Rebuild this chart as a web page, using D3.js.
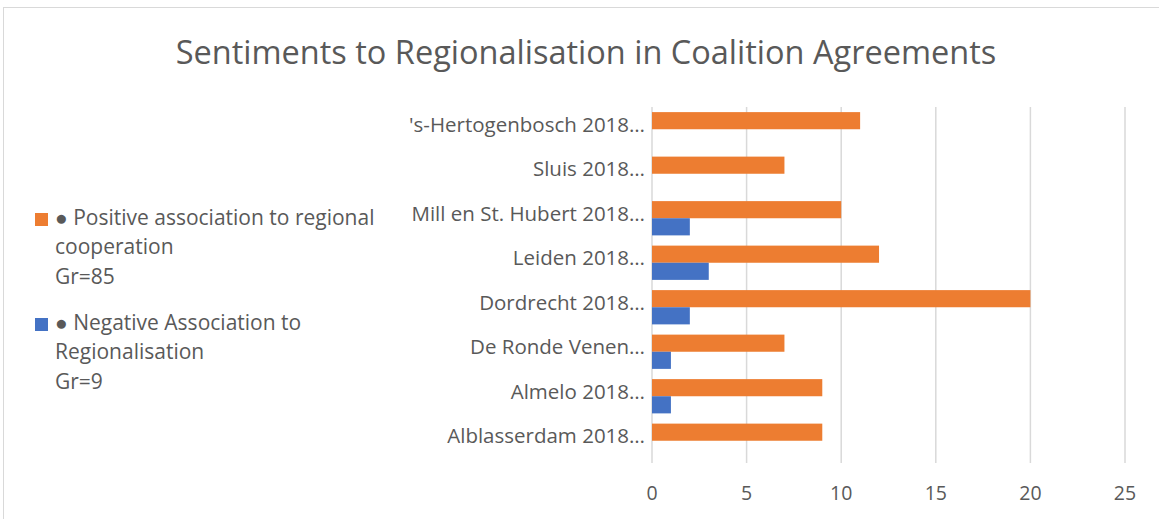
<!DOCTYPE html>
<html>
<head>
<meta charset="utf-8">
<script src="https://cdn.jsdelivr.net/npm/d3@7"></script>
<style>
  body { margin: 0; background: #fff; }
  text { font-family: "Open Sans", "Noto Sans", sans-serif; fill: #595959; }
</style>
</head>
<body>
<svg id="chart" width="1159" height="519"></svg>
<script>
// data (bottom to top as drawn)
var categories = ["Alblasserdam 2018…", "Almelo 2018…", "De Ronde Venen…", "Dordrecht 2018…",
                  "Leiden 2018…", "Mill en St. Hubert 2018…", "Sluis 2018…", "'s-Hertogenbosch 2018…"];
var positive = [9, 9, 7, 20, 12, 10, 7, 11];
var negative = [0, 1, 1, 2, 3, 2, 0, 0];
var xTicks = [0, 5, 10, 15, 20, 25];
var seriesNames = ["Positive", "Negative"];
var legendLines = [
  ["● Positive association to regional", "cooperation", "Gr=85"],
  ["● Negative Association to", "Regionalisation", "Gr=9"]
];
var colors = ["#ed7d31", "#4472c4"];

var svg = d3.select("#chart");

// outer frame
svg.append("rect").attr("x", 3.5).attr("y", 7.5).attr("width", 1200).attr("height", 600)
  .attr("fill", "none").attr("stroke", "#d9d9d9").attr("stroke-width", 1);

svg.append("text").attr("x", 586).attr("y", 64).attr("text-anchor", "middle")
  .style("font-size", "32.5px").text("Sentiments to Regionalisation in Coalition Agreements");

var pLeft = 652, pRight = 1125, pTop = 107, pBottom = 463;
var x = d3.scaleLinear().domain([0, 25]).range([pLeft, pRight]);
// reversed so first category sits at the bottom
var y = d3.scaleBand().domain(categories.slice().reverse()).range([pTop, pBottom]).paddingInner(0.23).paddingOuter(0.115);
var ySub = d3.scaleBand().domain(seriesNames).range([0, y.bandwidth()]);

// gridlines
svg.append("g").selectAll("line").data(xTicks).join("line")
  .attr("x1", d => x(d)).attr("x2", d => x(d)).attr("y1", pTop).attr("y2", pBottom)
  .attr("stroke", "#d9d9d9").attr("stroke-width", 1.5);

var rows = categories.map((c, i) => ({ cat: c, vals: [positive[i], negative[i]] }));
var g = svg.append("g").selectAll("g").data(rows).join("g")
  .attr("transform", d => "translate(0," + y(d.cat) + ")");
g.selectAll("rect").data(d => d.vals.map((v, j) => ({ v: v, s: seriesNames[j], c: colors[j] })))
  .join("rect")
  .attr("x", x(0)).attr("y", d => ySub(d.s))
  .attr("width", d => x(d.v) - x(0)).attr("height", ySub.bandwidth())
  .attr("fill", d => d.c);

// category labels
svg.append("g").selectAll("text").data(categories).join("text")
  .attr("x", 645).attr("y", d => y(d) + y.bandwidth() / 2 - 3)
  .attr("text-anchor", "end").attr("dominant-baseline", "middle")
  .style("font-size", "20.5px").text(d => d);

// x tick labels
svg.append("g").selectAll("text").data(xTicks).join("text")
  .attr("x", d => x(d)).attr("y", 495).attr("text-anchor", "middle")
  .attr("dominant-baseline", "middle").style("font-size", "19.5px").text(d => d);

// legend
var legY = [219, 324];
legendLines.forEach(function (lines, i) {
  svg.append("rect").attr("x", 35).attr("y", legY[i] - 6).attr("width", 13).attr("height", 13)
    .attr("fill", colors[i]);
  lines.forEach(function (t, k) {
    svg.append("text").attr("x", 55).attr("y", legY[i] + k * 29.5)
      .attr("dominant-baseline", "middle").style("font-size", "21px").text(t);
  });
});
</script>
</body>
</html>
